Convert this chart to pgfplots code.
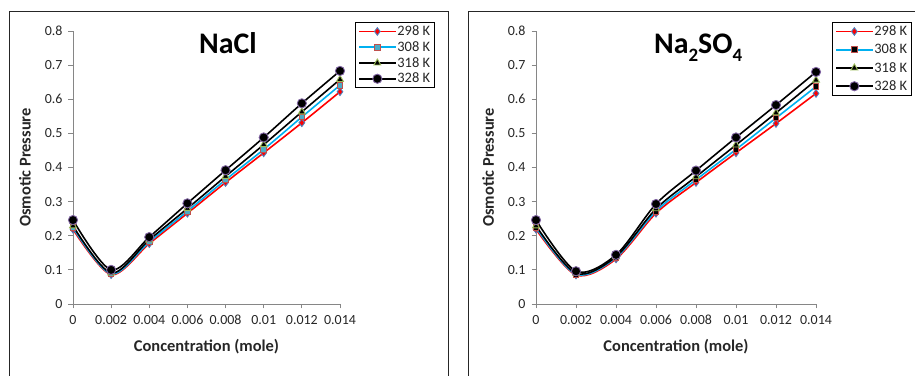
\documentclass[border=0pt]{standalone}
\usepackage{pgfplots}
\pgfplotsset{compat=1.18}
\usepackage{pgfplotstable}
\usepackage{fontspec}
\setmainfont{Carlito}

\definecolor{cRed}{HTML}{FF0000}
\definecolor{cCyan}{HTML}{00B0F0}
\definecolor{cBlueEdge}{HTML}{4F81BD}
\definecolor{cRedEdge}{HTML}{C0504D}
\definecolor{cGreenEdge}{HTML}{9BBB59}
\definecolor{cPurpleEdge}{HTML}{8064A2}
\definecolor{cSqFill}{HTML}{4BACC6}
\definecolor{axisgray}{HTML}{868686}
\definecolor{txt}{HTML}{262626}

% osmotic pressure vs concentration (mole), four temperatures
\pgfplotstableread{
c      T298   T308   T318   T328
0      0.219  0.224  0.229  0.246
0.002  0.086  0.088  0.091  0.100
0.004  0.177  0.182  0.188  0.196
0.006  0.266  0.272  0.280  0.295
0.008  0.356  0.364  0.374  0.392
0.010  0.443  0.453  0.467  0.488
0.012  0.531  0.548  0.563  0.588
0.014  0.622  0.641  0.658  0.683
}\nacl

\pgfplotstableread{
c      T298   T308   T318   T328
0      0.219  0.224  0.229  0.246
0.002  0.085  0.087  0.090  0.096
0.004  0.132  0.136  0.139  0.144
0.006  0.266  0.272  0.279  0.293
0.008  0.356  0.364  0.373  0.391
0.010  0.443  0.453  0.466  0.488
0.012  0.529  0.545  0.560  0.583
0.014  0.617  0.637  0.656  0.680
}\nasulf

\pgfplotsset{
  panel/.style={
    scale only axis,
    height=273bp,
    xmin=0, xmax=0.014, ymin=0, ymax=0.8,
    clip=false,
    scaled x ticks=false, scaled y ticks=false,
    axis lines=left,
    axis line style={-, draw=axisgray, line width=0.9bp},
    tick align=outside,
    major tick length=4.5bp,
    tick style={draw=axisgray, line width=0.9bp},
    xtick={0,0.002,0.004,0.006,0.008,0.010,0.012,0.014},
    xticklabels={0,0.002,0.004,0.006,0.008,0.01,0.012,0.014},
    ytick={0,0.1,0.2,0.3,0.4,0.5,0.6,0.7,0.8},
    yticklabels={0,0.1,0.2,0.3,0.4,0.5,0.6,0.7,0.8},
    ticklabel style={font=\fontsize{14}{16}\selectfont, text=txt},
    xticklabel style={yshift=-3bp},
    yticklabel style={xshift=-2.5bp},
    xlabel={Concentration (mole)},
    ylabel={Osmotic Pressure},
    label style={font=\fontsize{16.5}{18}\selectfont\bfseries, text=txt},
    every axis plot/.append style={smooth, line width=1.6bp},
    legend cell align=left,
    legend image code/.code={%
      \draw[mark repeat=2,mark phase=2,#1,line width=1.6bp]
        plot coordinates {(0bp,0bp) (18bp,0bp) (36bp,0bp)};},
    legend style={
      anchor=north west, draw=black, line width=1.2bp, fill=white,
      font=\fontsize{14.5}{16}\selectfont, text=txt,
      inner xsep=3bp, inner ysep=2bp,
      nodes={inner sep=1.2bp},
    },
  },
  s298/.style={color=cRed, mark=diamond*, mark size=3.8bp,
    mark options={fill=cRed, draw=cBlueEdge, line width=0.9bp}},
  s308/.style={color=cCyan, mark=square*, mark size=2.8bp,
    mark options={fill=#1, draw=cRedEdge, line width=0.9bp}},
  s318/.style={color=black, mark=triangle*, mark size=4bp,
    mark options={fill=black, draw=cGreenEdge, line width=0.9bp}},
  s328/.style={color=black, mark=*, mark size=4.6bp,
    mark options={fill=black, draw=cPurpleEdge, line width=0.9bp}},
}

\begin{document}
\begin{tikzpicture}
\useasboundingbox (0,0) rectangle (915bp,376bp);
\clip (0,0) rectangle (915bp,376bp);

% left panel: NaCl
\begin{axis}[panel, at={(73bp,72bp)}, anchor=south west, width=267bp,
  xlabel style={at={(axis description cs:0.5,-0.1575)}, anchor=center},
  ylabel style={at={(axis description cs:-0.18,0.5)}, anchor=center},
  legend style={at={(1.056,1.033)}, row sep=2bp}]
\addplot[s298] table[x=c, y=T298] {\nacl};
\addlegendentry{298 K}
\addplot[s308=cSqFill] table[x=c, y=T308] {\nacl};
\addlegendentry{308 K}
\addplot[s318] table[x=c, y=T318] {\nacl};
\addlegendentry{318 K}
\addplot[s328] table[x=c, y=T328] {\nacl};
\addlegendentry{328 K}
\node[anchor=base, font=\fontsize{30}{32}\selectfont\bfseries, text=black]
  at (axis description cs:0.58,0.916) {NaCl};
\end{axis}

% right panel: Na2SO4
\begin{axis}[panel, at={(536bp,72bp)}, anchor=south west, width=280bp,
  xlabel style={at={(axis description cs:0.5,-0.1575)}, anchor=center},
  ylabel style={at={(axis description cs:-0.171,0.5)}, anchor=center},
  legend style={at={(1.057,1.033)}, row sep=4.5bp}]
\addplot[s298] table[x=c, y=T298] {\nasulf};
\addlegendentry{298 K}
\addplot[s308=black] table[x=c, y=T308] {\nasulf};
\addlegendentry{308 K}
\addplot[s318] table[x=c, y=T318] {\nasulf};
\addlegendentry{318 K}
\addplot[s328] table[x=c, y=T328] {\nasulf};
\addlegendentry{328 K}
\node[anchor=base, font=\fontsize{30}{32}\selectfont\bfseries, text=black]
  at (axis description cs:0.579,0.916)
  {Na\raisebox{-7.5bp}{\fontsize{19}{19}\selectfont 2}SO\raisebox{-7.5bp}{\fontsize{19}{19}\selectfont 4}};
\end{axis}

% chart-area frames
\draw[black!85, line width=1bp] (9bp,-10bp) |- (448bp,364bp) -- (448bp,-10bp);
\draw[black!85, line width=1bp] (468bp,-10bp) |- (930bp,364bp);
\end{tikzpicture}
\end{document}
